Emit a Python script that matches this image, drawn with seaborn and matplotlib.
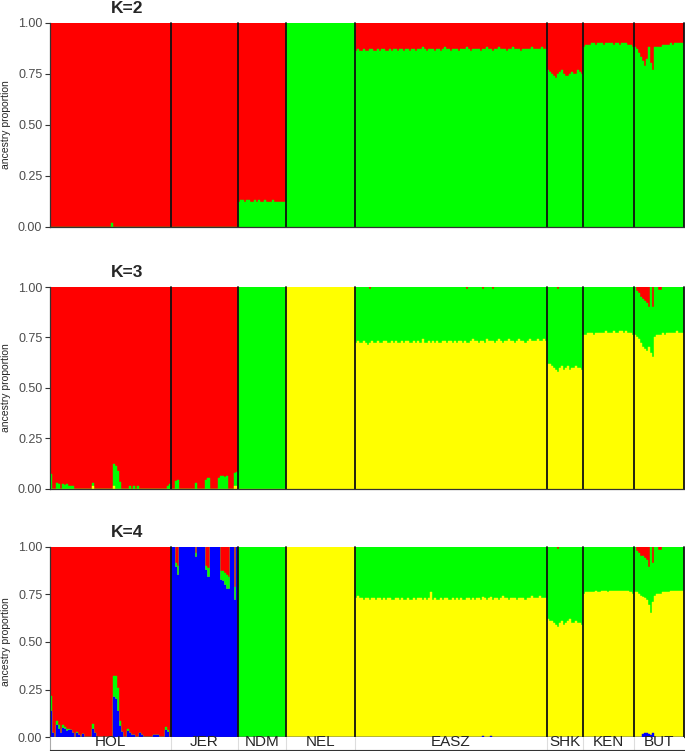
import numpy as np
import matplotlib
matplotlib.use("Agg")
import matplotlib.pyplot as plt
import seaborn as sns

# "REST" marks the component that takes up whatever is left to reach 1.0
REST = None

populations = ["HOL", "JER", "NDM", "NEL", "EASZ", "SHK", "KEN", "BUT"]
pop_sizes = [60, 33, 24, 34, 95, 18, 25, 25]

col_blue = "#0000FF"
col_yellow = "#FFFF00"
col_green = "#00FF00"
col_red = "#FF0000"

# ---------------- K=2 : green (bottom), red (top) ----------------
k2_green = (
    [0.0] * 30 + [0.02] + [0.0] * 29  # HOL
    + [0.0] * 33  # JER
    + [0.12, 0.13, 0.13, 0.12, 0.13, 0.13, 0.12, 0.12, 0.13, 0.12, 0.13, 0.12,
       0.12, 0.13, 0.12, 0.12, 0.12, 0.13, 0.12, 0.12, 0.12, 0.12, 0.12, 0.12]  # NDM
    + [1.0] * 34  # NEL
    + [0.86, 0.87, 0.86, 0.86, 0.87, 0.86, 0.86, 0.87, 0.87, 0.86,
       0.86, 0.87, 0.86, 0.87, 0.87, 0.86, 0.86, 0.87, 0.86, 0.87,
       0.87, 0.86, 0.87, 0.87, 0.86, 0.87, 0.87, 0.86, 0.87, 0.87,
       0.86, 0.87, 0.87, 0.88, 0.87, 0.86, 0.87, 0.87, 0.87, 0.86,
       0.87, 0.87, 0.86, 0.87, 0.88, 0.87, 0.87, 0.86, 0.87, 0.87,
       0.87, 0.86, 0.87, 0.87, 0.87, 0.88, 0.87, 0.86, 0.87, 0.87,
       0.87, 0.87, 0.86, 0.87, 0.87, 0.88, 0.87, 0.87, 0.86, 0.87,
       0.87, 0.88, 0.87, 0.87, 0.87, 0.86, 0.87, 0.87, 0.88, 0.87,
       0.87, 0.87, 0.86, 0.87, 0.87, 0.87, 0.87, 0.88, 0.87, 0.87,
       0.87, 0.87, 0.88, 0.87, 0.87]  # EASZ
    + [0.77, 0.76, 0.75, 0.74, 0.73, 0.75, 0.76, 0.77, 0.75,
       0.74, 0.74, 0.75, 0.76, 0.75, 0.75, 0.77, 0.76, 0.75]  # SHK
    + [0.88, 0.89, 0.89, 0.89, 0.90, 0.90, 0.89, 0.90, 0.90, 0.90, 0.89, 0.90, 0.90,
       0.90, 0.90, 0.89, 0.90, 0.90, 0.89, 0.90, 0.90, 0.90, 0.89, 0.89, 0.88]  # KEN
    + [0.88, 0.87, 0.85, 0.83, 0.81, 0.79, 0.82, 0.88, 0.80, 0.77, 0.88, 0.88, 0.88,
       0.88, 0.89, 0.89, 0.89, 0.89, 0.90, 0.89, 0.90, 0.90, 0.90, 0.90, 0.90]  # BUT
)
k2_red = [REST] * sum(pop_sizes)

# ---------------- K=3 : yellow, green, red ----------------
k3_yellow = (
    [0.0] * 21 + [0.01] + [0.0] * 9 + [0.01] + [0.0] * 28  # HOL
    + [0.0] * 31 + [0.01, 0.01]  # JER
    + [0.0] * 24  # NDM
    + [REST] * 34  # NEL
    + [0.72, 0.73, 0.72, 0.72, 0.73, 0.72, 0.71, 0.72, 0.73, 0.72,
       0.72, 0.73, 0.72, 0.72, 0.73, 0.73, 0.72, 0.72, 0.73, 0.72,
       0.73, 0.72, 0.72, 0.73, 0.72, 0.73, 0.73, 0.72, 0.72, 0.73,
       0.72, 0.73, 0.72, 0.74, 0.72, 0.72, 0.73, 0.72, 0.73, 0.72,
       0.73, 0.72, 0.72, 0.73, 0.73, 0.72, 0.73, 0.73, 0.72, 0.73,
       0.72, 0.73, 0.73, 0.72, 0.73, 0.72, 0.72, 0.73, 0.74, 0.73,
       0.73, 0.72, 0.73, 0.73, 0.72, 0.74, 0.73, 0.73, 0.73, 0.72,
       0.73, 0.74, 0.73, 0.72, 0.73, 0.73, 0.74, 0.73, 0.73, 0.72,
       0.73, 0.74, 0.73, 0.73, 0.72, 0.73, 0.74, 0.73, 0.73, 0.73,
       0.74, 0.73, 0.73, 0.74, 0.73]  # EASZ
    + [0.62, 0.62, 0.61, 0.60, 0.59, 0.58, 0.60, 0.61, 0.59,
       0.60, 0.61, 0.59, 0.60, 0.60, 0.61, 0.60, 0.60, 0.59]  # SHK
    + [0.76, 0.76, 0.77, 0.77, 0.77, 0.76, 0.77, 0.77, 0.77, 0.77, 0.77, 0.78, 0.77,
       0.77, 0.77, 0.78, 0.77, 0.77, 0.78, 0.78, 0.77, 0.78, 0.77, 0.77, 0.76]  # KEN
    + [0.76, 0.75, 0.74, 0.72, 0.70, 0.69, 0.68, 0.70, 0.67, 0.655, 0.75, 0.76, 0.76,
       0.76, 0.77, 0.76, 0.77, 0.77, 0.77, 0.77, 0.77, 0.78, 0.77, 0.77, 0.77]  # BUT
)
k3_green = (
    [0.07, 0.0, 0.0, 0.025, 0.02, 0.0, 0.02, 0.015, 0.02, 0.01, 0.01, 0.01]
    + [0.0] * 9 + [0.015] + [0.0] * 9 + [0.11, 0.11, 0.085, 0.03] + [0.0] * 4
    + [0.01, 0.0, 0.01, 0.0, 0.01] + [0.0] * 14 + [0.01, 0.02]  # HOL
    + [0.0, 0.0, 0.035, 0.04] + [0.0] * 8 + [0.025] + [0.0] * 4 + [0.04, 0.05]
    + [0.0] * 4 + [0.05, 0.06, 0.06, 0.055, 0.06] + [0.0] * 3 + [0.065, 0.07]  # JER
    + [REST] * 24  # NDM
    + [0.0] * 34  # NEL
    + [REST] * 95  # EASZ
    + [REST] * 18  # SHK
    + [REST] * 25  # KEN
    + [REST] * 25  # BUT
)
k3_red = (
    [REST] * 60  # HOL
    + [REST] * 33  # JER
    + [0.0] * 24  # NDM
    + [0.0] * 34  # NEL
    + [0.0] * 7 + [0.01] + [0.0] * 47 + [0.01] + [0.0] * 7 + [0.01] + [0.0] * 4
    + [0.01] + [0.0] * 26  # EASZ
    + [0.0] * 5 + [0.01] + [0.0] * 12  # SHK
    + [0.0] * 25  # KEN
    + [0.0, 0.02, 0.03, 0.05, 0.06, 0.07, 0.08, 0.10, 0.0, 0.10, 0.0, 0.0, 0.015,
       0.015] + [0.0] * 11  # BUT
)

# ---------------- K=4 : blue, yellow, green, red ----------------
k4_blue = (
    [0.14, 0.02, 0.0, 0.065, 0.045, 0.02, 0.05, 0.045, 0.035, 0.04, 0.04, 0.02,
     0.0, 0.025, 0.01, 0.0, 0.015] + [0.0] * 4 + [0.045, 0.02] + [0.0] * 8
    + [0.21, 0.20, 0.14, 0.06, 0.03, 0.0, 0.0, 0.035, 0.02, 0.01, 0.01, 0.0, 0.0,
       0.025, 0.01] + [0.0] * 5 + [0.01, 0.01, 0.01] + [0.0] * 3
    + [0.04, 0.03, 0.0]  # HOL
    + [REST] * 33  # JER
    + [0.0] * 24  # NDM
    + [0.0] * 34  # NEL
    + [0.0] * 63 + [0.008] + [0.0] * 3 + [0.008] + [0.0] * 27  # EASZ
    + [0.0] * 18  # SHK
    + [0.0] * 25  # KEN
    + [0.0, 0.0, 0.0, 0.0, 0.015, 0.02, 0.02, 0.015, 0.01, 0.02] + [0.0] * 15  # BUT
)
k4_yellow = (
    [0.0] * 60  # HOL
    + [0.0] * 33  # JER
    + [0.0] * 24  # NDM
    + [REST] * 34  # NEL
    + [0.73, 0.74, 0.73, 0.73, 0.72, 0.73, 0.73, 0.72, 0.73, 0.73,
       0.72, 0.73, 0.73, 0.72, 0.73, 0.72, 0.73, 0.73, 0.72, 0.72,
       0.73, 0.73, 0.72, 0.73, 0.72, 0.72, 0.73, 0.72, 0.72, 0.73,
       0.72, 0.73, 0.73, 0.72, 0.73, 0.72, 0.73, 0.76, 0.72, 0.73,
       0.72, 0.72, 0.73, 0.72, 0.73, 0.73, 0.72, 0.72, 0.73, 0.72,
       0.73, 0.72, 0.73, 0.72, 0.72, 0.73, 0.73, 0.72, 0.73, 0.72,
       0.73, 0.73, 0.72, 0.73, 0.73, 0.72, 0.73, 0.73, 0.72, 0.73,
       0.73, 0.72, 0.73, 0.74, 0.73, 0.73, 0.72, 0.73, 0.73, 0.73,
       0.72, 0.73, 0.73, 0.73, 0.72, 0.73, 0.73, 0.74, 0.73, 0.73,
       0.73, 0.74, 0.73, 0.73, 0.73]  # EASZ
    + [0.62, 0.61, 0.61, 0.60, 0.59, 0.58, 0.60, 0.61, 0.59,
       0.60, 0.61, 0.62, 0.60, 0.60, 0.61, 0.60, 0.60, 0.59]  # SHK
    + [0.75, 0.76, 0.76, 0.76, 0.76, 0.76, 0.77, 0.76, 0.76, 0.77, 0.77, 0.77, 0.76,
       0.77, 0.77, 0.77, 0.77, 0.77, 0.77, 0.77, 0.77, 0.77, 0.77, 0.76, 0.75]  # KEN
    + [0.76, 0.76, 0.75, 0.74, 0.72, 0.71, 0.70, 0.68, 0.64, 0.69, 0.74, 0.75, 0.75,
       0.75, 0.76, 0.76, 0.76, 0.76, 0.77, 0.77, 0.77, 0.77, 0.77, 0.77, 0.77]  # BUT
)
k4_green = (
    [0.075, 0.0, 0.0, 0.022, 0.02, 0.0, 0.015, 0.01, 0.01, 0.005, 0.0, 0.0, 0.0,
     0.005] + [0.0] * 7 + [0.025] + [0.0] * 9 + [0.11, 0.12, 0.12, 0.025]
    + [0.0] * 3 + [0.01, 0.005] + [0.0] * 17 + [0.015, 0.01, 0.0]  # HOL
    + [0.0, 0.0, 0.02, 0.05] + [0.0] * 8 + [0.02] + [0.0] * 4 + [0.02, 0.05]
    + [0.0] * 5 + [0.045, 0.05, 0.06, 0.07, 0.06] + [0.0, 0.0, 0.07, 0.0]  # JER
    + [REST] * 24  # NDM
    + [0.0] * 34  # NEL
    + [REST] * 95  # EASZ
    + [REST] * 18  # SHK
    + [REST] * 25  # KEN
    + [REST] * 25  # BUT
)
k4_red = (
    [REST] * 60  # HOL
    + [0.0, 0.0, 0.085, 0.10] + [0.0] * 8 + [0.035] + [0.0] * 4 + [0.10, 0.11]
    + [0.0] * 5 + [0.13, 0.13, 0.14, 0.15, 0.16] + [0.0, 0.0, 0.21, 0.0]  # JER
    + [0.0] * 24  # NDM
    + [0.0] * 34  # NEL
    + [0.0] * 95  # EASZ
    + [0.0] * 5 + [0.01] + [0.0] * 12  # SHK
    + [0.0] * 25  # KEN
    + [0.0, 0.02, 0.035, 0.05, 0.05, 0.06, 0.07, 0.105, 0.0, 0.085, 0.0, 0.0,
       0.017, 0.017] + [0.0] * 11  # BUT
)


def fill_rest(components):
    """Turn REST entries into whatever is left so every individual sums to 1."""
    arr = np.array(components, dtype=float)
    rest = 1.0 - np.nansum(arr, axis=0)
    for row in arr:
        row[np.isnan(row)] = rest[np.isnan(row)]
    return arr


W, H = 685, 751
sns.set_style("ticks")
plt.rcParams["font.family"] = ["Liberation Sans", "DejaVu Sans"]

fig = plt.figure(figsize=(W / 100, H / 100), dpi=100)

panels = [
    ("K=2", 22.7, 226.7, 13.3, [k2_green, k2_red], [col_green, col_red]),
    ("K=3", 287.0, 488.5, 277.3, [k3_yellow, k3_green, k3_red],
     [col_yellow, col_green, col_red]),
    ("K=4", 546.7, 737.3, 536.7, [k4_blue, k4_yellow, k4_green, k4_red],
     [col_blue, col_yellow, col_green, col_red]),
]

n_total = sum(pop_sizes)
bounds = np.cumsum(pop_sizes)
centers = bounds - np.array(pop_sizes) / 2 - 0.5
x_left, x_width = 50, 634

for title, top, bottom, title_y, comps, colors in panels:
    ax = fig.add_axes([x_left / W, 1 - bottom / H, x_width / W, (bottom - top) / H])
    props = fill_rest(comps)
    tops = np.cumsum(props, axis=0)
    ind = np.arange(n_total)
    # draw from the top layer down so each lower layer overpaints the one above
    for level in range(len(comps) - 1, -1, -1):
        sns.barplot(x=ind, y=tops[level], color=colors[level], width=1,
                    saturation=1, errorbar=None, linewidth=0.3,
                    edgecolor=colors[level], ax=ax)
    for b in bounds:
        ax.axvline(b - 0.5, color="#111111", lw=1.3, clip_on=False)
    ax.set_xlim(-0.5, n_total - 0.5)
    ax.set_ylim(0, 1)
    ax.set_xticks([])
    ax.set_yticks([0, 0.25, 0.5, 0.75, 1.0])
    ax.set_yticklabels(["0.00", "0.25", "0.50", "0.75", "1.00"])
    ax.tick_params(axis="y", length=3.5, width=0.8, color="#333333",
                   labelsize=9, labelcolor="#4D4D4D", pad=2)
    ax.set_xlabel("")
    ax.set_ylabel("")
    for s in ["top", "right"]:
        ax.spines[s].set_visible(False)
    for s in ["left", "bottom"]:
        ax.spines[s].set_color("#333333")
        ax.spines[s].set_linewidth(0.9)
    fig.text(127 / W, 1 - title_y / H, title, ha="center", va="baseline",
             fontsize=12.5, fontweight="bold")
    fig.text(6 / W, 1 - (top + bottom) / 2 / H, "ancestry proportion",
             rotation=90, ha="center", va="center", fontsize=7.5)

# population strip under the last panel
strip = fig.add_axes([x_left / W, 1 - 750 / H, x_width / W, (750 - 737.3) / H])
strip.set_xlim(-0.5, n_total - 0.5)
strip.set_ylim(0, 1)
strip.set_xticks([])
strip.set_yticks([])
for b in bounds[:-1]:
    strip.axvline(b - 0.5, color="#DDDDDD", lw=0.8)
for s in ["top", "right"]:
    strip.spines[s].set_visible(False)
strip.spines["left"].set_color("#AAAAAA")
strip.spines["bottom"].set_color("#333333")
for name, c in zip(populations, centers):
    strip.text(c, 0.05, name, ha="center", va="bottom", fontsize=11)

fig.savefig("out.png", dpi=100)
